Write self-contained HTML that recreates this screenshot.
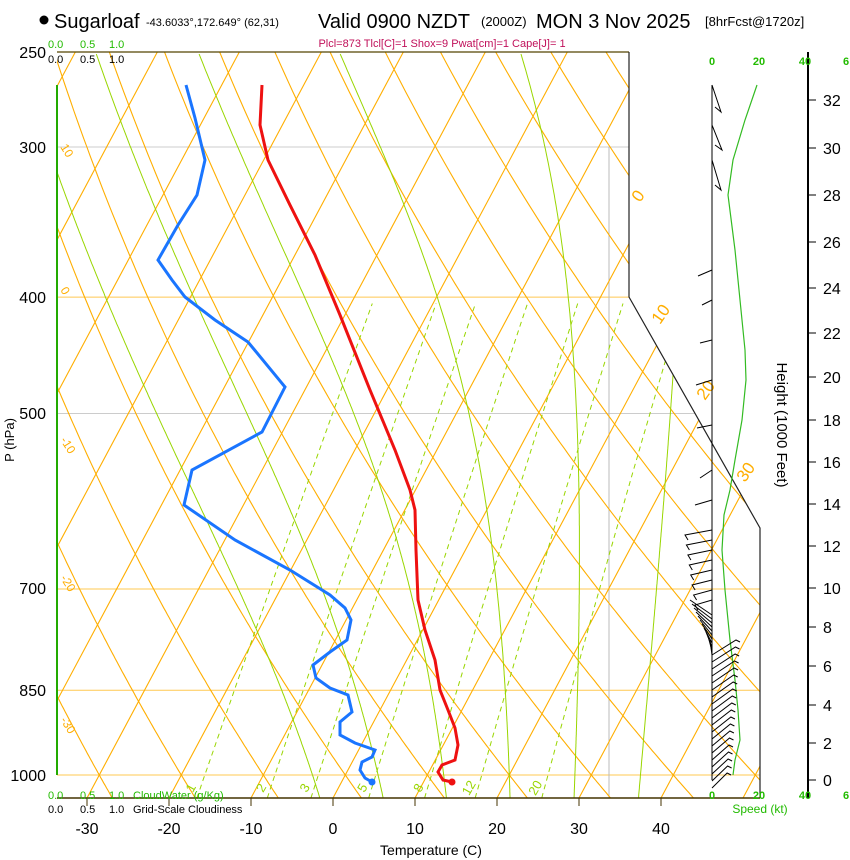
<!DOCTYPE html>
<html><head><meta charset="utf-8"><style>
html,body{margin:0;padding:0;background:#fff;}
svg{display:block;font-family:"Liberation Sans",sans-serif;}
</style></head><body>
<svg id="s" width="850" height="860" viewBox="0 0 850 860" xmlns="http://www.w3.org/2000/svg">
<defs><clipPath id="c"><polygon points="57,52 629,52 629,297 760,528 760,798 57,798"/></clipPath></defs>
<g id="bg" clip-path="url(#c)"></g>
<g id="fg"></g>
<circle cx="44" cy="20" r="4.5" fill="#000"/>
<text x="54" y="28" font-size="20">Sugarloaf</text>
<text x="146" y="26" font-size="11">-43.6033°,172.649° (62,31)</text>
<text x="318" y="28" font-size="20">Valid 0900 NZDT</text>
<text x="481" y="26" font-size="13">(2000Z)</text>
<text x="536" y="28" font-size="20">MON 3 Nov 2025</text>
<text x="705" y="26" font-size="13">[8hrFcst@1720z]</text>
<text x="442" y="47" font-size="11" fill="#c0105a" text-anchor="middle">Plcl=873 Tlcl[C]=1 Shox=9 Pwat[cm]=1 Cape[J]= 1</text>
<g font-size="11" fill="#22bb00"><text x="48" y="48">0.0</text><text x="80" y="48">0.5</text><text x="109" y="48">1.0</text></g>
<g font-size="11" fill="#000"><text x="48" y="63">0.0</text><text x="80" y="63">0.5</text><text x="109" y="63">1.0</text></g>
<g font-size="16" text-anchor="end"><text x="46" y="58">250</text><text x="46" y="153">300</text><text x="46" y="303">400</text><text x="46" y="419">500</text><text x="46" y="594">700</text><text x="46" y="696">850</text><text x="46" y="781">1000</text></g>
<text transform="translate(14,440) rotate(-90)" font-size="13" text-anchor="middle">P (hPa)</text>
<g font-size="11" fill="#22bb00"><text x="48" y="799">0.0</text><text x="80" y="799">0.5</text><text x="109" y="799">1.0</text><text x="133" y="799">CloudWater (g/Kg)</text></g>
<g font-size="11" fill="#000"><text x="48" y="813">0.0</text><text x="80" y="813">0.5</text><text x="109" y="813">1.0</text><text x="133" y="813">Grid-Scale Cloudiness</text></g>
<g font-size="16" text-anchor="middle"><text x="87" y="834">-30</text><text x="169" y="834">-20</text><text x="251" y="834">-10</text><text x="333" y="834">0</text><text x="415" y="834">10</text><text x="497" y="834">20</text><text x="579" y="834">30</text><text x="661" y="834">40</text></g>
<text x="431" y="855" font-size="14" text-anchor="middle">Temperature (C)</text>
<g font-size="11" fill="#22bb00" font-weight="bold" text-anchor="middle"><text x="712" y="65">0</text><text x="759" y="65">20</text><text x="805" y="65">40</text><text x="846" y="65">6</text><text x="712" y="799">0</text><text x="759" y="799">20</text><text x="805" y="799">40</text><text x="846" y="799">6</text></g>
<text x="760" y="813" font-size="12" fill="#22bb00" text-anchor="middle">Speed (kt)</text>
<text transform="translate(777,425) rotate(90)" font-size="15" text-anchor="middle">Height (1000 Feet)</text>
</svg>
<script>
(function(){
var NS="http://www.w3.org/2000/svg",bg=document.getElementById('bg'),fg=document.getElementById('fg');
function Y(p){return 775-521.6*Math.log(1000/p);}
function X(T,p){return 333+8.2*T+0.534*(798-Y(p));}
function el(par,tag,a){var e=document.createElementNS(NS,tag);for(var k in a)e.setAttribute(k,a[k]);par.appendChild(e);return e;}
function path(par,pts,st,w,dash){var d='';pts.forEach(function(q,i){d+=(i?'L':'M')+q[0].toFixed(1)+','+q[1].toFixed(1);});var a={d:d,fill:'none',stroke:st,'stroke-width':w||1};if(dash)a['stroke-dasharray']=dash;return el(par,'path',a);}
var OR='#ffae00',GR='#99d600';
[[300,'#ccc'],[400,'#ffc850'],[500,'#ccc'],[700,'#ffc850'],[850,'#ffc850'],[1000,'#ffc850']].forEach(function(h){path(bg,[[57,Y(h[0])],[760,Y(h[0])]],h[1],1);});
path(bg,[[609,147],[609,798]],'#bbb',1);
for(var T=-150;T<=60;T+=10){path(bg,[[X(T,1045),Y(1045)],[X(T,250),Y(250)]],OR,1.1);}
for(var th=-60;th<=220;th+=10){var pts=[];for(var p=1045;p>=249;p-=5){var Tk=(th+273.15)*Math.pow(p/1000,0.2857);pts.push([X(Tk-273.15,p),Y(p)]);}path(bg,pts,OR,1.1);}
function es(Tc){return 6.112*Math.exp(17.67*Tc/(Tc+243.5));}
for(var tw=-4;tw<=36;tw+=8){var Tk=tw+273.15,pts=[],p=1045;
 var T0=Tk;var pp=1000;while(pp<1045){var r=0.622*es(T0-273.15)/(pp-es(T0-273.15));var g=(287*T0+2.5e6*r)/(1004+2.5e6*2.5e6*r*0.622/(287*T0*T0));T0+=g*Math.log((pp+1)/pp);pp+=1;}
 Tk=T0;p=1045;while(p>=250){pts.push([X(Tk-273.15,p),Y(p)]);var r=0.622*es(Tk-273.15)/(p-es(Tk-273.15));var g=(287*Tk+2.5e6*r)/(1004+2.5e6*2.5e6*r*0.622/(287*Tk*Tk));Tk-=g*Math.log(p/(p-2));p-=2;}
 path(bg,pts,GR,1);}
[1,2,3,5,8,12,20].forEach(function(w){var pts=[];for(var p=1045;p>=400;p-=10){var e=(w/1000)*p/(0.622+w/1000),l=Math.log(e/6.112),Tc=243.5*l/(17.67-l);pts.push([X(Tc,p),Y(p)]);}path(bg,pts,GR,1,'5,4');
 var q=pts[1];var t=el(fg,'text',{x:q[0]-4,y:790,'font-size':13,fill:GR,transform:'rotate(-60 '+(q[0]-4)+' 790)','text-anchor':'middle'});t.textContent=w;});
path(fg,[[57,52],[629,52]],'#554400',1.2);
path(fg,[[629,52],[629,297],[760,528],[760,798]],'#222',1.2);
path(fg,[[57,798],[760,798]],'#443300',1.5);
path(fg,[[57,85],[57,775]],'#22aa00',2);
[87,169,251,333,415,497,579,661].forEach(function(x){path(fg,[[x,798],[x,806]],'#443300',1);});
[['0',640,203],['10',660,325],['20',705,401],['30',745,483]].forEach(function(a){var t=el(fg,'text',{x:a[1],y:a[2],'font-size':17,fill:OR,transform:'rotate(-55 '+a[1]+' '+a[2]+')'});t.textContent=a[0];});
[['10',60,147],['0',60,290],['-10',60,440],['-20',60,578],['-30',60,720]].forEach(function(a){var t=el(fg,'text',{x:a[1],y:a[2],'font-size':12,fill:OR,transform:'rotate(58 '+a[1]+' '+a[2]+')'});t.textContent=a[0];});
var red=[[262,85],[260,125],[268,160],[290,205],[315,255],[340,315],[370,390],[395,450],[410,490],[415,510],[416,550],[418,600],[425,630],[435,660],[440,690],[448,710],[455,728],[458,745],[455,760],[442,765],[438,772],[443,780],[452,782]];
path(fg,red,'#ee1111',3);el(fg,'circle',{cx:452,cy:782,r:3.5,fill:'#ee1111'});
var blue=[[186,85],[195,118],[205,160],[197,195],[178,225],[158,260],[172,280],[185,297],[215,320],[248,342],[285,387],[262,432],[192,470],[184,505],[235,540],[290,570],[330,595],[345,608],[351,620],[347,640],[330,652],[313,665],[316,678],[330,688],[348,695],[352,712],[340,722],[340,735],[355,743],[375,750],[372,757],[362,762],[360,770],[365,778],[372,782]];
path(fg,blue,'#1a75ff',3);el(fg,'circle',{cx:372,cy:782,r:3.5,fill:'#1a75ff'});
path(fg,[[808,52],[808,798]],'#000',2);
[[0,780],[2,743],[4,705],[6,666],[8,627],[10,588],[12,546],[14,504],[16,462],[18,420],[20,377],[22,333],[24,288],[26,242],[28,195],[30,148],[32,100]].forEach(function(h){path(fg,[[808,h[1]],[816,h[1]]],'#000',1);var t=el(fg,'text',{x:823,y:h[1]+6,'font-size':16});t.textContent=h[0];});
var sp=[[757,85],[745,120],[733,160],[728,195],[735,250],[740,300],[745,350],[746,380],[742,420],[735,460],[730,490],[724,515],[722,550],[725,590],[730,640],[735,680],[738,710],[740,740],[735,760],[733,775]];
path(fg,sp,'#33bb22',1.2);
path(fg,[[712,85],[712,780]],'#000',1);
[[85,721,112],[125,722,150],[160,721,190]].forEach(function(b){path(fg,[[712,b[0]],[b[1],b[2]],[715,b[2]-5]],'#000',1);});
[[270,698,276],[300,702,305],[340,700,343],[380,696,385],[425,697,428],[470,700,478],[500,695,505]].forEach(function(b){path(fg,[[712,b[0]],[b[1],b[2]]],'#000',1);});
for(var y=530;y<=600;y+=10){path(fg,[[712,y],[685+(y-530)/7,y+5],[688+(y-530)/7,y+10]],'#000',1);}
for(var y=600;y<=640;y+=4){path(fg,[[712,y+15],[690+(y-600)/2,y]],'#000',1);}
for(var y=640;y<=775;y+=7){path(fg,[[712,y+15],[736-(y-640)/15,y],[740-(y-640)/15,y+2]],'#000',1);}
})();
</script>
</body></html>
